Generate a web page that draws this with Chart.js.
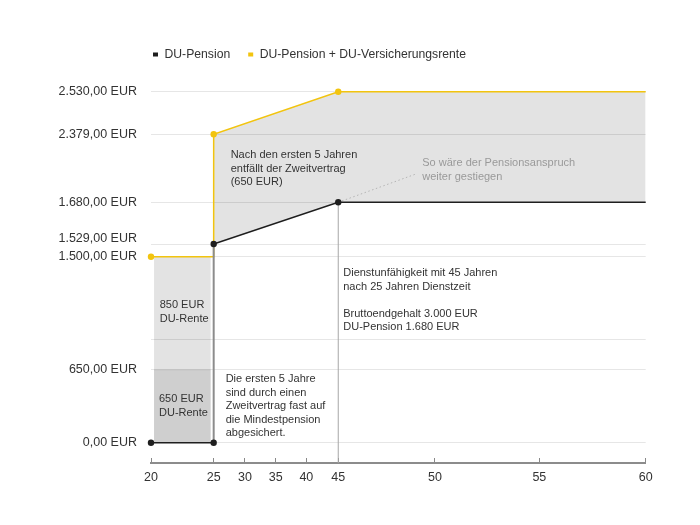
<!DOCTYPE html>
<html lang="de">
<head>
<meta charset="utf-8">
<title>DU-Pension</title>
<script src="https://cdn.jsdelivr.net/npm/chart.js@4.4.1/dist/chart.umd.min.js"></script>
<style>
  html, body { margin: 0; padding: 0; background: #fff; }
</style>
</head>
<body>
<canvas id="pension" width="700" height="525"></canvas>
<script>
// Alter in Jahren, Beträge in EUR
const alter = [20, 25, 25, 45, 60];
const duPension = [0, 0, 1529, 1680, 1680];
const duGesamt = [1500, 1500, 2379, 2530, 2530];
// Balken der ersten 5 Jahre (von, bis)
const balkenAlter = 22.5;
const zweitvertrag = [0, 650];
const versicherung = [650, 1500];
// so wäre der Anspruch weiter gestiegen
const weiterAlter = [45, 49];
const weiterPension = [1680, 1970];

const xTicks = [20, 25, 30, 35, 40, 45, 50, 55, 60];
const yTicks = [0, 650, 1000, 1500, 1529, 1680, 2379, 2530];
const yTickLabels = ['0,00 EUR', '650,00 EUR', '', '1.500,00 EUR', '1.529,00 EUR', '1.680,00 EUR', '2.379,00 EUR', '2.530,00 EUR'];

// Die Achsen sind nicht gleichmäßig geteilt: Wert -> Anteil der Achsenlänge
const stufen = {
    x: [[20, 0], [25, 0.1267], [30, 0.190], [35, 0.252], [40, 0.314], [45, 0.3785], [50, 0.574], [55, 0.785], [60, 1]],
    y: [[-180, 0], [0, 0.0547], [650, 0.2505], [1000, 0.3313], [1500, 0.5556], [1529, 0.5898], [1680, 0.7021], [2379, 0.8853], [2530, 1]]
};
const tickWerte = { x: xTicks, y: yTicks };
// 1.529 sitzt etwas höher, sonst stößt es an 1.500
const labelVersatz = { 1529: -5 };

class StufenSkala extends Chart.LinearScale {
    static id = 'stufen';
    static defaults = {};
    buildTicks() {
        return tickWerte[this.id].map(v => ({ value: v }));
    }
    anteil(v) {
        const s = stufen[this.id];
        if (v <= s[0][0]) return s[0][1];
        for (let i = 1; i < s.length; i++) {
            if (v <= s[i][0]) {
                const [a, fa] = s[i - 1], [b, fb] = s[i];
                return fa + (v - a) / (b - a) * (fb - fa);
            }
        }
        return s[s.length - 1][1];
    }
    getPixelForValue(v) {
        return this.getPixelForDecimal(this.anteil(v));
    }
    getValueForPixel(p) {
        const d = this.getDecimalForPixel(p);
        const s = stufen[this.id];
        for (let i = 1; i < s.length; i++) {
            if (d <= s[i][1]) {
                const [a, fa] = s[i - 1], [b, fb] = s[i];
                return a + (d - fa) / (fb - fa) * (b - a);
            }
        }
        return s[s.length - 1][0];
    }
    _computeLabelItems(area) {
        const items = super._computeLabelItems(area);
        if (this.id === 'y') {
            items.forEach((it, i) => {
                const d = this.ticks[i] && labelVersatz[this.ticks[i].value];
                if (d) it.options.translation = [it.options.translation[0], it.options.translation[1] + d];
            });
        }
        return items;
    }
}
Chart.register(StufenSkala);

const schrift = '"Liberation Sans", Arial, Helvetica, sans-serif';
Chart.defaults.font.family = schrift;
Chart.defaults.color = '#333';

const punkte = (xs, ys) => xs.map((x, i) => ({ x: x, y: ys[i] }));
const senkrecht = c => c.p0.parsed.x === c.p1.parsed.x;

// Texte im Diagramm, an einem Datenpunkt verankert
const hinweise = [
    { x: 25, y: 2379, dx: 17, dy: 21, lh: 13.4, farbe: '#333', zeilen: ['Nach den ersten 5 Jahren', 'entfällt der Zweitvertrag', '(650 EUR)'] },
    { x: 45, y: 1680, dx: 84, dy: -39, lh: 13.4, farbe: '#999', zeilen: ['So wäre der Pensionsanspruch', 'weiter gestiegen'] },
    { x: 45, y: 1500, dx: 5, dy: 16.6, lh: 13.4, farbe: '#333', zeilen: ['Dienstunfähigkeit mit 45 Jahren', 'nach 25 Jahren Dienstzeit', '', 'Bruttoendgehalt 3.000 EUR', 'DU-Pension 1.680 EUR'] },
    { x: 25, y: 650, dx: 12, dy: 9, lh: 13.6, farbe: '#333', zeilen: ['Die ersten 5 Jahre', 'sind durch einen', 'Zweitvertrag fast auf', 'die Mindestpension', 'abgesichert.'] },
    { x: 20, y: 1500, dx: 8.7, dy: 48.6, lh: 14, farbe: '#333', zeilen: ['850 EUR', 'DU-Rente'] },
    { x: 20, y: 650, dx: 8, dy: 29.3, lh: 13.7, farbe: '#333', zeilen: ['650 EUR', 'DU-Rente'] }
];

const textPlugin = {
    id: 'hinweise',
    afterDatasetsDraw(chart) {
        const ctx = chart.ctx;
        ctx.save();
        ctx.font = '11px ' + schrift;
        ctx.textBaseline = 'middle';
        ctx.textAlign = 'left';
        hinweise.forEach(h => {
            const px = chart.scales.x.getPixelForValue(h.x) + h.dx;
            const py = chart.scales.y.getPixelForValue(h.y) + h.dy;
            ctx.fillStyle = h.farbe;
            h.zeilen.forEach((z, i) => ctx.fillText(z, px, py + i * h.lh));
        });
        ctx.restore();
    }
};

const legendePlugin = {
    id: 'legende',
    afterDraw(chart) {
        const ctx = chart.ctx;
        ctx.save();
        ctx.font = '12.2px ' + schrift;
        ctx.textBaseline = 'middle';
        let x = chart.chartArea.left + 2;
        const y = 54.5;
        chart.data.datasets.filter(d => d.legende).forEach(d => {
            ctx.fillStyle = d.borderColor;
            ctx.fillRect(x, y - 2, 5, 4);
            ctx.fillStyle = '#333';
            ctx.fillText(d.label, x + 11.5, y);
            x += 11.5 + ctx.measureText(d.label).width + 18;
        });
        ctx.restore();
    }
};

new Chart(document.getElementById('pension').getContext('2d'), {
    type: 'line',
    data: {
        datasets: [
            {
                label: 'DU-Pension',
                legende: true,
                data: punkte(alter, duPension),
                borderColor: '#1e1e1e',
                borderWidth: 1.5,
                pointRadius: [3.2, 3.2, 3.2, 3.2, 0],
                pointBackgroundColor: '#1e1e1e',
                pointBorderWidth: 0,
                clip: false,
                segment: {
                    borderColor: c => senkrecht(c) ? '#8c8c8c' : undefined,
                    borderWidth: c => senkrecht(c) ? 2 : undefined
                }
            },
            {
                label: 'DU-Pension + DU-Versicherungsrente',
                legende: true,
                data: punkte(alter, duGesamt),
                borderColor: '#f2c40f',
                borderWidth: 1.5,
                pointRadius: [3.2, 0, 3.2, 3.2, 0],
                pointBackgroundColor: '#f2c40f',
                pointBorderWidth: 0,
                clip: false
            },
            {
                label: 'weiter gestiegen',
                data: punkte(weiterAlter, weiterPension),
                borderColor: '#b4b4b4',
                borderWidth: 1,
                borderDash: [1.5, 2.5],
                pointRadius: 0
            },
            {
                label: 'Dienstunfähigkeit',
                data: [{ x: alter[3], y: stufen.y[0][0] }, { x: alter[3], y: duPension[3] }],
                borderColor: '#a6a6a6',
                borderWidth: 1,
                pointRadius: 0
            },
            {
                label: 'Pension ab 25',
                data: punkte(alter.slice(2), duPension.slice(2)),
                borderWidth: 0,
                pointRadius: 0,
                fill: false
            },
            {
                label: 'Gesamt ab 25',
                data: punkte(alter.slice(2), duGesamt.slice(2)),
                borderWidth: 0,
                pointRadius: 0,
                fill: '-1',
                backgroundColor: 'rgba(0,0,0,0.11)'
            },
            {
                type: 'bar',
                label: '850 EUR DU-Rente',
                data: [{ x: balkenAlter, y: versicherung }],
                backgroundColor: 'rgba(0,0,0,0.11)',
                stack: 'rente',
                barThickness: 56
            },
            {
                type: 'bar',
                label: '650 EUR DU-Rente',
                data: [{ x: balkenAlter, y: zweitvertrag }],
                backgroundColor: 'rgba(0,0,0,0.19)',
                stack: 'rente',
                barThickness: 56
            }
        ]
    },
    options: {
        responsive: false,
        animation: false,
        layout: {
            padding: { top: 91.7, right: 54.3, bottom: 0, left: 0 }
        },
        plugins: {
            legend: { display: false },
            tooltip: { enabled: false }
        },
        scales: {
            x: {
                type: 'stufen',
                min: 20,
                max: 60,
                offset: false,
                grid: { offset: false, drawOnChartArea: false, drawTicks: true, tickLength: -5, color: '#888' },
                border: { display: true, color: '#8c8c8c', width: 2 },
                ticks: { padding: 12, autoSkip: false, maxRotation: 0, font: { size: 12.5 }, callback: v => v },
                afterFit: s => { s.height = 62; }
            },
            y: {
                type: 'stufen',
                min: stufen.y[0][0],
                max: 2530,
                stacked: false,
                grid: { color: '#e6e6e6', drawTicks: false },
                border: { display: false },
                ticks: { padding: 14, autoSkip: false, font: { size: 12.5 }, callback: (v, i) => yTickLabels[i] },
                afterFit: s => { s.width = 151; }
            }
        }
    },
    plugins: [textPlugin, legendePlugin]
});
</script>
</body>
</html>
